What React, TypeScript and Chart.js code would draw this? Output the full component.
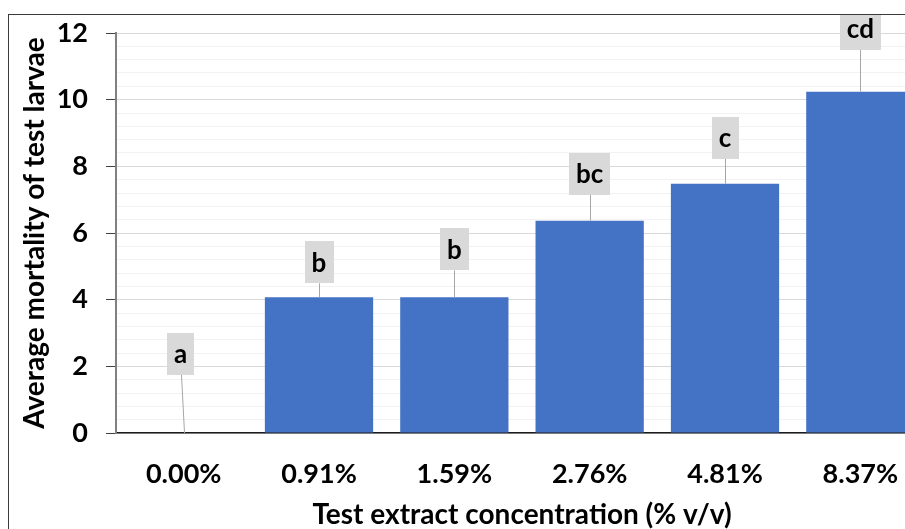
import React, { useEffect, useRef } from "react";
import { Chart, registerables } from "chart.js";

Chart.register(...registerables);

const categories = ["0.00%", "0.91%", "1.59%", "2.76%", "4.81%", "8.37%"];
const mortality = [0, 4.07, 4.07, 6.37, 7.48, 10.24];
const letters = ["a", "b", "b", "bc", "c", "cd"];
const labelLift = [58, 14, 27, 26, 25, 42];
const labelShift = [-3, 0, 0, 0, 0, 0];
const yTicksMajor = [0, 2, 4, 6, 8, 10, 12];
const yTitle = "Average mortality of test larvae";
const xTitle = "Test extract concentration (% v/v)";

const FONT = "Lato";
const BAR_COLOR = "#4472c4";

const isMajor = (v: number) => yTicksMajor.some((m) => Math.abs(m - v) < 1e-6);

const barLabelPlugin = {
  id: "barLabels",
  afterDatasetsDraw(chart: any) {
    const ctx = chart.ctx;
    const meta = chart.getDatasetMeta(0);
    ctx.save();
    ctx.font = `bold 26px ${FONT}`;
    meta.data.forEach((bar: any, i: number) => {
      const { x, y } = bar.getProps(["x", "y"], true);
      const text = letters[i];
      const w = Math.round(ctx.measureText(text).width + 14);
      const h = 42;
      const cx = x + labelShift[i];
      const bottom = y - labelLift[i];
      const top = bottom - h;
      ctx.strokeStyle = "#a6a6a6";
      ctx.lineWidth = 1;
      ctx.beginPath();
      ctx.moveTo(Math.round(cx) + 0.5, bottom);
      ctx.lineTo(Math.round(x) + 0.5, y);
      ctx.stroke();
      ctx.fillStyle = "#d9d9d9";
      ctx.fillRect(Math.round(cx - w / 2), Math.round(top), w, h);
      ctx.fillStyle = "#000";
      ctx.textAlign = "center";
      ctx.textBaseline = "middle";
      ctx.fillText(text, cx, top + h / 2 + 1);
    });
    ctx.restore();
  },
};

export default function App() {
  const canvasRef = useRef<HTMLCanvasElement | null>(null);

  useEffect(() => {
    if (!canvasRef.current) return;
    const chart = new Chart(canvasRef.current, {
      type: "bar",
      data: {
        labels: categories,
        datasets: [
          {
            data: mortality,
            backgroundColor: BAR_COLOR,
            borderWidth: 0,
            barPercentage: 0.8,
            categoryPercentage: 1.0,
          },
        ],
      },
      options: {
        responsive: false,
        animation: false,
        devicePixelRatio: 1,
        layout: { padding: { top: 18, right: 6, bottom: 0, left: 0 } },
        plugins: {
          legend: { display: false },
          tooltip: { enabled: false },
        },
        scales: {
          x: {
            z: 1,
            grid: { display: true, color: "transparent", drawTicks: false },
            border: { display: true, color: "#1a1a1a", width: 1.5 },
            ticks: {
              color: "#000",
              font: { family: FONT, size: 27, weight: "bold" },
              padding: 25,
              maxRotation: 0,
              autoSkip: false,
            },
            title: {
              display: true,
              text: xTitle,
              color: "#000",
              font: { family: FONT, size: 28, weight: "bold" },
              padding: { top: 0, bottom: 23 },
            },
            afterFit: (scale: any) => {
              scale.height = 122;
              scale.paddingLeft = 0;
              scale.paddingRight = 0;
            },
          },
          y: {
            min: 0,
            max: 12,
            afterBuildTicks: (scale: any) => {
              const t = [];
              for (let i = 0; i <= 30; i++) t.push({ value: Math.round(i * 4) / 10 });
              scale.ticks = t;
            },
            grid: {
              color: (c: any) => (c.tick && isMajor(c.tick.value) ? "#d9d9d9" : "#f2f2f2"),
              tickColor: (c: any) => (c.tick && isMajor(c.tick.value) ? "#404040" : "transparent"),
              tickLength: 10,
              lineWidth: 1,
            },
            border: { display: true, color: "#808080", width: 2 },
            ticks: {
              color: "#000",
              font: { family: FONT, size: 27, weight: "bold" },
              padding: 18,
              autoSkip: false,
              callback: (v: any) => (isMajor(Number(v)) ? String(Math.round(Number(v))) : ""),
            },
            title: {
              display: true,
              text: yTitle,
              color: "#000",
              font: { family: FONT, size: 28, weight: "bold" },
              padding: { top: 9, bottom: 0 },
            },
            afterFit: (scale: any) => {
              scale.width = 107;
              scale.paddingTop = 0;
              scale.paddingBottom = 0;
            },
          },
        },
      },
      plugins: [barLabelPlugin],
    });
    return () => chart.destroy();
  }, []);

  return (
    <div
      style={{
        position: "fixed",
        left: 0,
        top: 0,
        width: 905,
        height: 529,
        overflow: "hidden",
        background: "#fff",
      }}
    >
      <div
        style={{
          position: "absolute",
          left: 8,
          top: 14,
          width: 1000,
          height: 600,
          border: "1px solid #3a3a3a",
          background: "#fff",
        }}
      >
        <canvas ref={canvasRef} width={925} height={540} style={{ display: "block" }} />
      </div>
    </div>
  );
}
